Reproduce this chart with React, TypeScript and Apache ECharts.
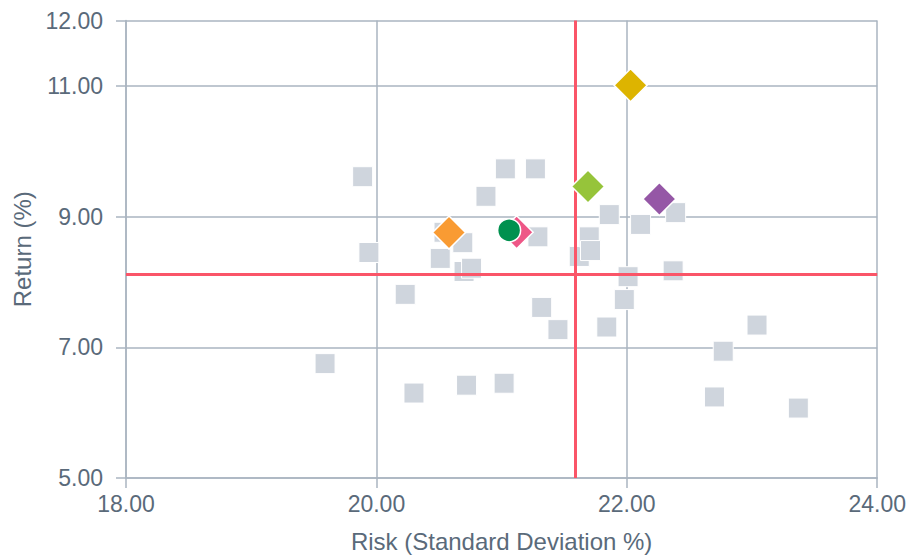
import React, { useEffect, useRef } from "react";
import * as echarts from "echarts";

// Peer universe (grey squares): risk (std dev %) and return (%)
const peerRisk = [
  19.59, 19.89, 19.94, 20.23, 20.3, 20.51, 20.54, 20.69, 20.7, 20.76, 20.72,
  20.875, 21.03, 21.02, 21.27, 21.29, 21.32, 21.45, 21.62, 21.7, 21.71, 21.84,
  21.86, 21.98, 22.01, 22.11, 22.39, 22.37, 22.7, 22.77, 23.04, 23.37,
];
const peerReturn = [
  6.75, 9.61, 8.45, 7.81, 6.3, 8.36, 8.76, 8.6, 8.16, 8.21, 6.42,
  9.31, 9.73, 6.45, 9.73, 8.69, 7.61, 7.27, 8.39, 8.69, 8.48, 7.31,
  9.03, 7.73, 8.08, 8.88, 9.06, 8.17, 6.24, 6.94, 7.34, 6.07,
];

// Highlighted funds
const fundNames = ["Fund A", "Fund B", "Fund C", "Fund D", "Fund E", "Fund F"];
const fundRisk = [20.58, 21.12, 21.06, 21.69, 22.26, 22.03];
const fundReturn = [8.755, 8.76, 8.79, 9.46, 9.27, 11.01];
const fundSymbols = ["diamond", "diamond", "circle", "diamond", "diamond", "diamond"];
const fundColors = ["#F99B33", "#EE5787", "#00914F", "#96C43A", "#9557A6", "#DDB400"];

// Reference lines (peer medians)
const medianRisk = 21.59;
const medianReturn = 8.12;

// Axis ticks
const xMin = 18;
const xMax = 24;
const xInterval = 2;
const yTicks = [5, 7, 9, 11, 12];

const GRID = "#AAB5C1";
const TEXT = "#5A6A7A";
const FONT = 'Arial, "Liberation Sans", Helvetica, sans-serif';

export default function App() {
  const ref = useRef<HTMLDivElement>(null);
  useEffect(() => {
    if (!ref.current) return;
    const chart = echarts.init(ref.current, undefined, { renderer: "svg" });
    const peerData = peerRisk.map((x, i) => [x, peerReturn[i]]);
    const fundSeries = fundNames.map((name, i) => ({
      name,
      type: "scatter",
      z: 5 + i,
      symbol: fundSymbols[i],
      symbolSize: fundSymbols[i] === "circle" ? 23 : 33,
      itemStyle: {
        color: fundColors[i],
        borderColor: "#ffffff",
        borderWidth: 1.5,
        opacity: 1,
      },
      data: [[fundRisk[i], fundReturn[i]]],
    }));
    chart.setOption({
      animation: false,
      backgroundColor: "#ffffff",
      textStyle: { fontFamily: FONT },
      grid: { left: 126, right: 28, top: 20.5, bottom: 79, containLabel: false },
      xAxis: {
        type: "value",
        min: xMin,
        max: xMax,
        interval: xInterval,
        name: "Risk (Standard Deviation %)",
        nameLocation: "middle",
        nameGap: 51,
        nameTextStyle: { color: TEXT, fontSize: 24, fontFamily: FONT },
        axisLine: { show: true, onZero: false, lineStyle: { color: GRID, width: 1.5 } },
        axisTick: { show: true, inside: false, length: 10, lineStyle: { color: GRID, width: 1.5 } },
        axisLabel: {
          color: TEXT,
          fontSize: 23,
          fontFamily: FONT,
          margin: 14,
          formatter: (v: number) => v.toFixed(2),
        },
        splitLine: { show: true, lineStyle: { color: GRID, width: 1.5 } },
      },
      yAxis: {
        type: "value",
        min: yTicks[0],
        max: yTicks[yTicks.length - 1],
        name: "Return (%)",
        nameLocation: "middle",
        nameGap: 84,
        nameTextStyle: { color: TEXT, fontSize: 24, fontFamily: FONT },
        axisLine: { show: true, onZero: false, lineStyle: { color: GRID, width: 1.5 } },
        axisTick: {
          show: true,
          inside: false,
          length: 10,
          customValues: yTicks,
          lineStyle: { color: GRID, width: 1.5 },
        },
        axisLabel: {
          color: TEXT,
          fontSize: 23,
          fontFamily: FONT,
          margin: 23,
          customValues: yTicks,
          formatter: (v: number) => v.toFixed(2),
        },
        splitLine: { show: true, lineStyle: { color: GRID, width: 1.5 } },
      },
      series: [
        {
          name: "Peers",
          type: "scatter",
          z: 2,
          symbol: "rect",
          symbolSize: 20,
          itemStyle: { color: "#CFD5DD", borderColor: "#ffffff", borderWidth: 1, opacity: 1 },
          data: peerData,
          markLine: {
            silent: true,
            symbol: ["none", "none"],
            label: { show: false },
            lineStyle: { color: "#FA5568", width: 3, type: "solid", opacity: 1 },
            data: [{ xAxis: medianRisk }, { yAxis: medianReturn }],
          },
        },
        ...fundSeries,
      ],
    });
    return () => chart.dispose();
  }, []);
  return (
    <div
      ref={ref}
      style={{ position: "fixed", left: 0, top: 0, width: 909, height: 558, background: "#fff" }}
    />
  );
}
